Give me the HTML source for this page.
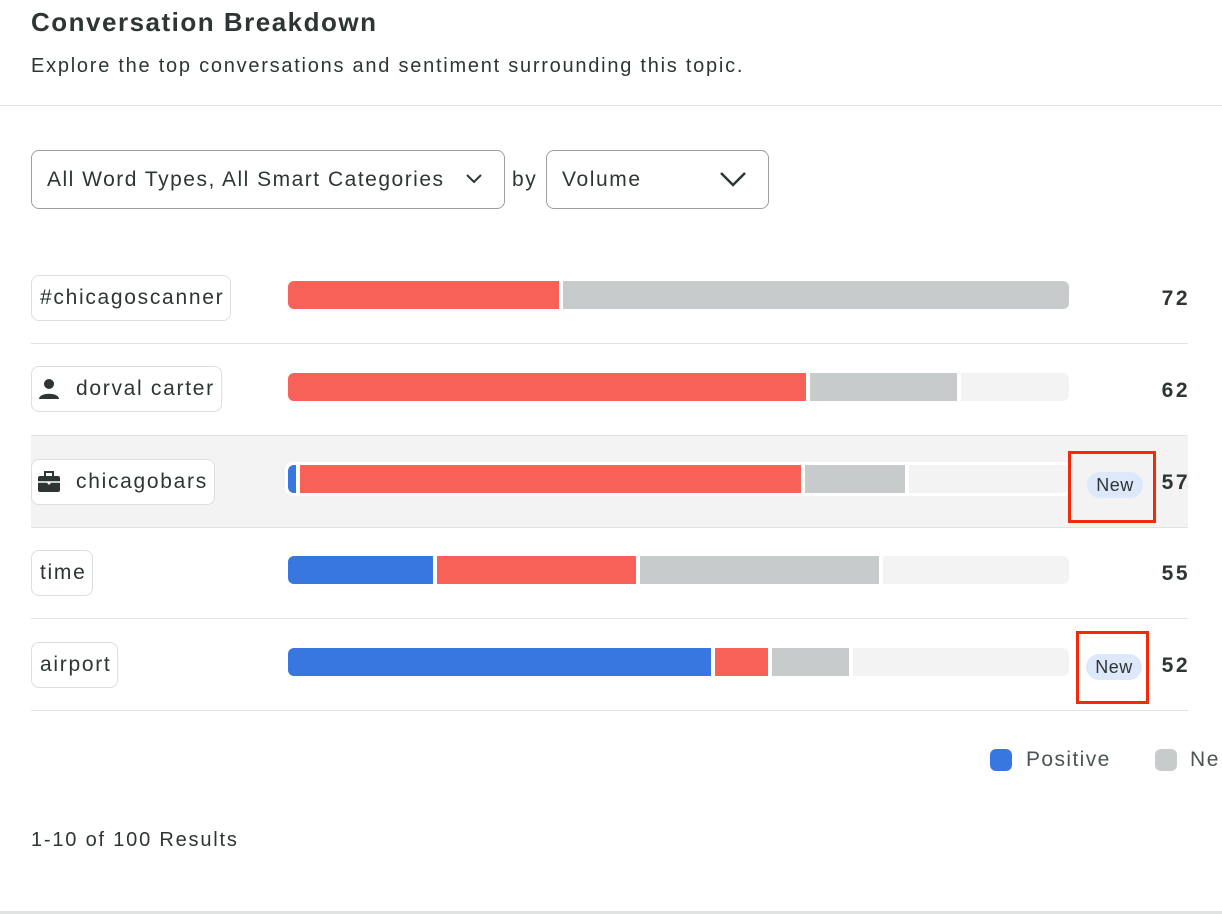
<!DOCTYPE html><html><head><style>
body{margin:0;width:1222px;height:914px;background:#fff;font-family:"Liberation Sans",sans-serif;color:#2d3535;position:relative;overflow:hidden;letter-spacing:1.6px}
.a{position:absolute;white-space:nowrap}
.t{font-size:20px;line-height:24px}
.pill{position:absolute;left:31px;height:46px;border:1px solid #dcdfdf;border-radius:8px;background:#fff;box-sizing:border-box;padding:0 6px 0 8px;font-size:21px;line-height:44px;white-space:nowrap;letter-spacing:1.7px}
.bar{position:absolute;left:288px;width:781px;height:28px;display:flex;gap:4px}
.bar div{height:28px}
.bar div:first-child{border-radius:6px 0 0 6px}
.bar div:last-child{border-radius:0 6px 6px 0}
.r{background:#f76157}.g{background:#c8cbcb}.l{background:#f2f3f2}.b{background:#3877e0}
.num{position:absolute;right:34px;font-weight:bold;font-size:21px;line-height:24px;letter-spacing:2.5px;margin-right:-2px}
.hr{position:absolute;left:31px;width:1157px;height:1px;background:#e1e3e3}
.new{position:absolute;width:56px;height:26px;border-radius:13px;background:#dde9fb;font-size:18px;line-height:26px;text-align:center;letter-spacing:0.5px}
.box{position:absolute;border:3px solid #f2290a;box-sizing:border-box}
</style></head><body>
<div class="a" style="left:31px;top:6px;font-size:26px;font-weight:bold;line-height:32px;letter-spacing:1.5px">Conversation Breakdown</div>
<div class="a t" style="left:31px;top:54px;letter-spacing:1.75px">Explore the top conversations and sentiment surrounding this topic.</div>
<div class="a" style="left:0;top:105px;width:1222px;height:1px;background:#e1e3e3"></div>
<div class="a" style="left:31px;top:150px;width:474px;height:59px;border:1px solid #9aa0a0;border-radius:8px;box-sizing:border-box"></div>
<div class="a t" style="left:47px;top:168px;font-size:21px;letter-spacing:1.5px">All Word Types, All Smart Categories</div>
<svg class="a" style="left:465px;top:172px" width="18" height="14"><path d="M2 3l7 7 7-7" fill="none" stroke="#2d3535" stroke-width="2"/></svg>
<div class="a t" style="left:512px;top:168px;font-size:21px">by</div>
<div class="a" style="left:546px;top:150px;width:223px;height:59px;border:1px solid #9aa0a0;border-radius:8px;box-sizing:border-box"></div>
<div class="a t" style="left:562px;top:168px;font-size:21px">Volume</div>
<svg class="a" style="left:719px;top:170px" width="28" height="18"><path d="M2 3l12 12 12-12" fill="none" stroke="#2d3535" stroke-width="2.5"/></svg>

<div class="a" style="left:31px;top:435px;width:1157px;height:92px;background:#f2f3f2"></div>

<div class="pill" style="top:275px">#chicagoscanner</div>
<div class="pill" style="top:366px;padding-left:44px">dorval carter</div>
<svg class="a" style="left:38px;top:378px" width="22" height="22"><circle cx="11" cy="6" r="5" fill="#2d3535"/><path d="M1 21c0-7 20-7 20 0z" fill="#2d3535"/></svg>
<div class="pill" style="top:459px;padding-left:44px">chicagobars</div>
<svg class="a" style="left:37px;top:471px" width="24" height="22"><rect x="8" y="1" width="8" height="5" fill="none" stroke="#2d3535" stroke-width="2"/><rect x="1" y="5" width="22" height="16" rx="2" fill="#2d3535"/><path d="M1 11h22" stroke="#fff" stroke-width="1.5"/><circle cx="12" cy="12" r="1.5" fill="#fff"/></svg>
<div class="pill" style="top:550px">time</div>
<div class="pill" style="top:642px">airport</div>

<div class="bar" style="top:281px"><div class="r" style="width:271px"></div><div class="g" style="width:506px"></div></div>
<div class="bar" style="top:373px"><div class="r" style="width:518px"></div><div class="g" style="width:147px"></div><div class="l" style="width:108px"></div></div>
<div class="a" style="left:285px;top:462px;width:787px;height:34px;background:#fff;border-radius:8px"></div>
<div class="bar" style="top:465px"><div class="b" style="width:8px"></div><div class="r" style="width:501px"></div><div class="g" style="width:100px"></div><div class="l" style="width:160px"></div></div>
<div class="bar" style="top:556px"><div class="b" style="width:145px"></div><div class="r" style="width:199px"></div><div class="g" style="width:239px"></div><div class="l" style="width:186px"></div></div>
<div class="bar" style="top:648px"><div class="b" style="width:423px"></div><div class="r" style="width:53px"></div><div class="g" style="width:77px"></div><div class="l" style="width:216px"></div></div>

<div class="num" style="top:287px">72</div>
<div class="num" style="top:379px">62</div>
<div class="num" style="top:471px">57</div>
<div class="num" style="top:562px">55</div>
<div class="num" style="top:654px">52</div>

<div class="hr" style="top:343px"></div><div class="hr" style="top:435px"></div><div class="hr" style="top:527px"></div><div class="hr" style="top:618px"></div><div class="hr" style="top:710px"></div>

<div class="new" style="left:1087px;top:472px">New</div>
<div class="box" style="left:1068px;top:451px;width:88px;height:72px"></div>
<div class="new" style="left:1086px;top:654px">New</div>
<div class="box" style="left:1076px;top:631px;width:73px;height:73px"></div>

<div class="a" style="left:990px;top:749px;width:22px;height:22px;border-radius:6px;background:#3877e0"></div>
<div class="a t" style="left:1026px;top:748px;font-size:21px;color:#4a5555;letter-spacing:1.4px">Positive</div>
<div class="a" style="left:1155px;top:749px;width:22px;height:22px;border-radius:6px;background:#c8cbcb"></div>
<div class="a t" style="left:1190px;top:748px;font-size:21px;color:#4a5555">Ne</div>
<div class="a t" style="left:31px;top:828px;letter-spacing:1.8px">1-10 of 100 Results</div>
<div class="a" style="left:0;top:911px;width:1222px;height:3px;background:#e1e3e3"></div>
</body></html>
